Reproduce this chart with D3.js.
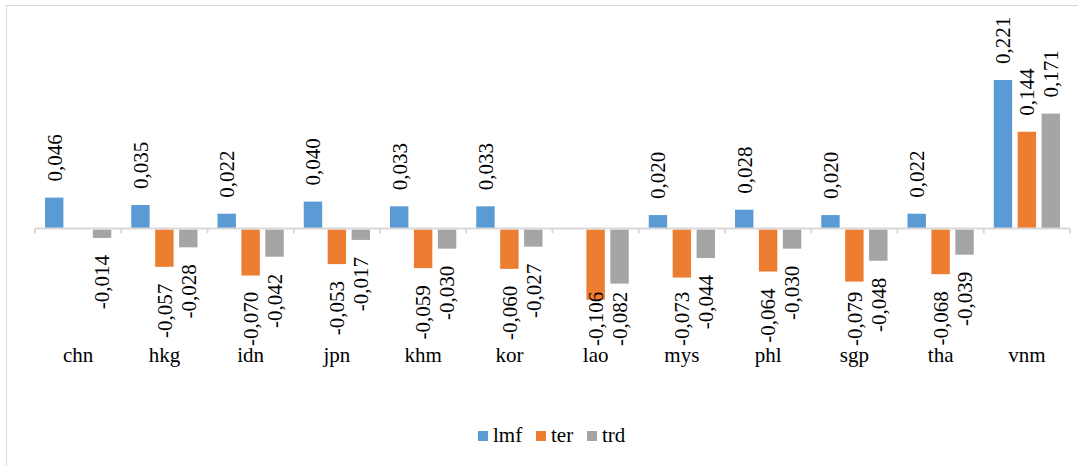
<!DOCTYPE html>
<html>
<head>
<meta charset="utf-8">
<script src="https://cdn.jsdelivr.net/npm/d3@7/dist/d3.min.js"></script>
</head>
<body style="margin:0">
<svg id="chart" width="1078" height="466" font-family="Liberation Serif" style="font-family: 'Liberation Serif'"></svg>
<script>
// Country codes along the x axis
const categories = ["chn", "hkg", "idn", "jpn", "khm", "kor", "lao", "mys", "phl", "sgp", "tha", "vnm"];
// Series names (legend order)
const seriesNames = ["lmf", "ter", "trd"];
// Values per series; null = no bar
const lmf = [0.046, 0.035, 0.022, 0.040, 0.033, 0.033, null, 0.020, 0.028, 0.020, 0.022, 0.221];
const ter = [null, -0.057, -0.070, -0.053, -0.059, -0.060, -0.106, -0.073, -0.064, -0.079, -0.068, 0.144];
const trd = [-0.014, -0.028, -0.042, -0.017, -0.030, -0.027, -0.082, -0.044, -0.030, -0.048, -0.039, 0.171];
const colors = ["#5B9BD5", "#ED7D31", "#A5A5A5"];

const seriesValues = [lmf, ter, trd];

const svg = d3.select("#chart");

// Chart area border
svg.append("rect")
  .attr("x", 6.5).attr("y", 5.5)
  .attr("width", 1085).attr("height", 475)
  .attr("fill", "none").attr("stroke", "#D9D9D9").attr("stroke-width", 1);

const x0 = d3.scaleBand().domain(categories).range([35, 1070]).padding(0);
const bw = x0.bandwidth();
const x1 = d3.scaleBand().domain(seriesNames).range([10, bw - 10]).paddingInner(0.23);
const y = d3.scaleLinear().domain([-0.15, 0.25]).range([329.3, 60.5]);

const fmt = d3.formatLocale({ decimal: ",", thousands: ".", grouping: [3], currency: ["", ""], minus: "-" }).format(".3f");

// Bars
const barData = [];
seriesNames.forEach((s, si) => {
  categories.forEach((c, ci) => {
    const v = seriesValues[si][ci];
    if (v !== null) barData.push({ s, si, c, v });
  });
});

svg.append("g").selectAll("rect")
  .data(barData)
  .join("rect")
  .attr("x", d => x0(d.c) + x1(d.s))
  .attr("width", x1.bandwidth())
  .attr("y", d => d.v >= 0 ? y(d.v) : y(0) + 1)
  .attr("height", d => d.v >= 0 ? y(0) - y(d.v) : y(d.v) - y(0) - 1)
  .attr("fill", d => colors[d.si]);

// Category axis line with ticks between categories
const axisG = svg.append("g");
axisG.append("line")
  .attr("x1", x0.range()[0]).attr("x2", x0.range()[1])
  .attr("y1", y(0)).attr("y2", y(0))
  .attr("stroke", "#D9D9D9").attr("stroke-width", 2);
const tickPos = categories.map(c => x0(c)).concat([x0.range()[1]]);
axisG.selectAll("line.tick")
  .data(tickPos)
  .join("line")
  .attr("class", "tick")
  .attr("x1", d => d).attr("x2", d => d)
  .attr("y1", y(0)).attr("y2", y(0) + 5)
  .attr("stroke", "#D9D9D9").attr("stroke-width", 2);

// Category labels (drawn before value labels so the clamped labels sit on top)
svg.selectAll("text.cat")
  .data(categories)
  .join("text")
  .attr("class", "cat")
  .attr("x", d => x0(d) + bw / 2)
  .attr("y", 362)
  .attr("text-anchor", "middle")
  .attr("font-size", 21)
  .text(d => d);

// Value labels, rotated; negative ones are kept inside the plot area
const labelBottomLimit = 346;
const labels = svg.selectAll("text.val")
  .data(barData)
  .join("text")
  .attr("class", "val")
  .attr("font-size", 21)
  .attr("dy", "0.35em")
  .attr("text-anchor", d => d.v >= 0 ? "start" : "end")
  .text(d => fmt(d.v));

labels.each(function (d) {
  const L = this.getComputedTextLength();
  const cx = x0(d.c) + x1(d.s) + x1.bandwidth() / 2;
  let py;
  if (d.v >= 0) {
    py = y(d.v) - 16;
  } else {
    py = y(d.v) + 17;
    if (py + L > labelBottomLimit) py = labelBottomLimit - L;
  }
  d3.select(this).attr("transform", `translate(${cx},${py}) rotate(-90)`);
});

// Legend
const legendX = [478, 536, 587];
const legend = svg.append("g").selectAll("g")
  .data(seriesNames)
  .join("g")
  .attr("transform", (d, i) => `translate(${legendX[i]},431)`);
legend.append("rect")
  .attr("width", 10).attr("height", 10)
  .attr("fill", (d, i) => colors[i]);
legend.append("text")
  .attr("x", 15).attr("y", 11)
  .attr("font-size", 21)
  .text(d => d);
</script>
</body>
</html>
